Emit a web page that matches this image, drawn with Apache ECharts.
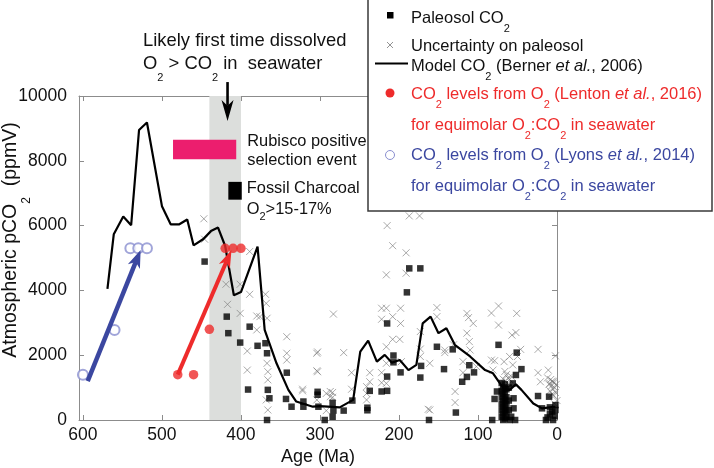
<!DOCTYPE html>
<html>
<head>
<meta charset="utf-8">
<script src="https://cdn.jsdelivr.net/npm/echarts@6/dist/echarts.min.js"></script>
<style>
  html, body { margin: 0; padding: 0; background: #fff; }
  #chart { width: 714px; height: 468px; }
</style>
</head>
<body>
<div id="chart"></div>
<script>
// ---------------------------- BEGIN DATA ----------------------------
var ageTicks = [600, 500, 400, 300, 200, 100, 0];
var co2Ticks = [0, 2000, 4000, 6000, 8000, 10000];

// model CO2 (Berner et al., 2006)
var modelAge = [569, 561, 549, 539, 529, 519, 500, 489, 478, 468, 460, 448, 438, 429,
  420, 409, 400, 379, 370, 355, 340, 330, 309, 300, 275, 258, 249, 239, 228, 218, 209,
  199, 188, 178, 170, 160, 150, 140, 129, 110, 91, 81, 68, 60, 52, 45, 30, 19, 2];
var modelCO2 = [4050, 5730, 6280, 6010, 8950, 9180, 6600, 6040, 6040, 6190, 5390, 5580,
  5830, 5940, 5370, 3850, 3950, 5350, 2780, 1750, 930, 570, 410, 430, 390, 620, 2110,
  2450, 1800, 2010, 1770, 1850, 1540, 1700, 2980, 3190, 2680, 2830, 2310, 1960, 1540,
  1440, 980, 930, 1100, 930, 510, 360, 410];

// paleosol CO2 [age, ppmV]
var paleosolPoints = [[446, 4890], [418, 3190], [416, 2680], [401, 2390], [391, 940],
  [389, 2880], [379, 2290], [369, 2370], [367, 2060], [366, 930], [364, 670], [367, 0],
  [342, 1460], [343, 650], [336, 410], [321, 570], [321, 410], [303, 870], [303, 780],
  [302, 410], [294, 0], [284, 100], [283, 290], [284, 530], [270, 290], [259, 600],
  [240, 380], [240, 300], [237, 900], [222, 880], [215, 900], [215, 1340], [207, 1990],
  [207, 1780], [215, 2980], [198, 1470], [190, 3940], [187, 4680], [173, 4680],
  [173, 1310], [172, 1670], [162, 0], [152, 2260], [143, 1570], [132, 2180], [128, 230],
  [120, 1180], [114, 1330], [111, 1690], [105, 1470], [82, 0], [74, 2320], [79, 650],
  [76, 880], [70, 1140], [70, 900], [70, 700], [70, 500], [70, 300], [70, 100],
  [68, 1000], [68, 800], [68, 600], [68, 400], [68, 200], [68, 0], [66, 1100], [66, 850],
  [66, 650], [66, 450], [66, 250], [66, 50], [64, 950], [64, 700], [64, 500], [64, 300],
  [64, 100], [61, 1000], [61, 600], [61, 300], [60, 0], [56, 1130], [55, 670], [55, 360],
  [52, 1390], [51, 2080], [45, 1570], [53, 0], [58, 100], [24, 740], [19, 360], [12, 80],
  [10, 720], [9, 390], [6, 260], [2, 460], [2, 310], [5, 0], [14, 0], [9, 180], [3, 120]];

// uncertainty on paleosol [age, ppmV]
var uncertaintyPoints = [[447, 6210], [446, 5580], [419, 4190], [417, 3570], [401, 4190],
  [401, 3290], [392, 2130], [392, 1540], [389, 5200], [389, 3880], [369, 3880],
  [368, 3600], [380, 3210], [376, 3190], [367, 3140], [380, 2780], [367, 1750],
  [366, 1490], [366, 1240], [368, 620], [366, 310], [342, 2570], [342, 2060], [342, 1850],
  [322, 950], [322, 900], [304, 2060], [303, 2100], [303, 1490], [304, 1520], [304, 620],
  [292, 290], [292, 820], [287, 880], [287, 720], [284, 850], [284, 700], [283, 3270],
  [270, 2080], [260, 1460], [260, 950], [241, 1030], [241, 820], [241, 620], [237, 1460],
  [237, 1180], [222, 1460], [222, 1150], [222, 3110], [222, 3450], [216, 3450],
  [216, 2260], [216, 1750], [216, 1130], [215, 6000], [208, 5380], [216, 4480],
  [208, 3190], [208, 2490], [199, 2490], [198, 3450], [198, 2980], [197, 1800],
  [191, 5160], [191, 4530], [187, 6300], [174, 6300], [173, 2730], [173, 2190],
  [173, 1960], [163, 330], [161, 1750], [161, 310], [152, 3470], [152, 3190], [142, 2160],
  [142, 2080], [131, 2320], [129, 880], [129, 540], [119, 1800], [119, 1460], [114, 3290],
  [112, 3160], [106, 2980], [114, 2680], [111, 2420], [110, 2160], [102, 1650], [83, 3300],
  [74, 3520], [74, 2930], [51, 3290], [57, 2620], [52, 2700], [83, 1850], [81, 1540],
  [79, 1830], [67, 1800], [68, 1260], [60, 1960], [56, 1700], [46, 2180], [50, 1960],
  [24, 2180], [24, 1460], [11, 1540], [2, 1980], [9, 1130], [5, 1180], [21, 1180],
  [66, 1500], [64, 1400], [62, 1300], [65, 1200], [61, 1100], [63, 1000], [60, 1250],
  [58, 1350], [66, 1050], [12, 1300], [8, 1250], [6, 1200], [4, 1150], [10, 1100],
  [7, 1050], [3, 1000], [5, 950], [9, 900], [2, 850], [6, 800], [4, 750], [1, 1100],
  [0, 600], [3, 500]];

// CO2 from O2 (Lenton et al., 2016)
var lentonAge = [480, 460, 440, 420, 410, 400];
var lentonCO2 = [1400, 1400, 2800, 5300, 5300, 5300];
var lentonArrow = [[480, 1400], [412, 5250]];

// CO2 from O2 (Lyons et al., 2014)
var lyonsAge = [600, 560, 540, 530, 519];
var lyonsCO2 = [1400, 2780, 5300, 5300, 5300];
var lyonsArrow = [[594, 1200], [527, 5250]];

// annotations
var bandAge = [440, 400];
var rubiscoAge = [486, 406];
var rubiscoCO2 = [8050, 8650];
var charcoalAge = [416, 399];
var charcoalCO2 = [6800, 7350];
var arrowAge = 417;
var arrowCO2 = [10430, 9230];
// ----------------------------- END DATA -----------------------------

var FONT = '"Liberation Sans", Arial, Helvetica, sans-serif';
var RED = '#ee2b2b';
var BLUE = '#3b47a0';
var AXIS_GRAY = '#8c8c8c';

var chart = echarts.init(document.getElementById('chart'), null, {renderer: 'canvas'});

function pairs(xs, ys) {
  return xs.map(function (x, i) { return [x, ys[i]]; });
}

function toPx(pt) {
  return chart.convertToPixel({gridIndex: 0}, pt);
}

// rich styles for subscripts / italics in graphic texts
function richFor(color, size, subPad) {
  return {
    s: {fontFamily: FONT, fontSize: 11, fill: color, padding: [subPad, 0, 0, 0]},
    i: {fontFamily: FONT, fontSize: size, fill: color, fontStyle: 'italic'}
  };
}

function textEl(x, y, str, color, size, subPad) {
  return {
    type: 'text', x: x, y: y, z: 120, silent: true,
    style: {
      text: str, fontFamily: FONT, fontSize: size, fill: color,
      align: 'left', verticalAlign: 'middle',
      rich: richFor(color, size, subPad)
    }
  };
}

// thick arrow (shaft + notched head) between two pixel points
function arrowEls(p0, p1, color, width, headLen, headHalf) {
  var dx = p1[0] - p0[0], dy = p1[1] - p0[1];
  var len = Math.sqrt(dx * dx + dy * dy);
  var ux = dx / len, uy = dy / len;
  var nx = -uy, ny = ux;
  var bx = p1[0] - ux * headLen, by = p1[1] - uy * headLen;
  var notch = [p1[0] - ux * headLen * 0.72, p1[1] - uy * headLen * 0.72];
  return [
    {type: 'line', z: 60, silent: true,
      shape: {x1: p0[0], y1: p0[1], x2: notch[0], y2: notch[1]},
      style: {stroke: color, lineWidth: width}},
    {type: 'polygon', z: 60, silent: true,
      shape: {points: [p1, [bx + nx * headHalf, by + ny * headHalf], notch,
        [bx - nx * headHalf, by - ny * headHalf]]},
      style: {fill: color}}
  ];
}

function mirrorAxis(base, pos) {
  return {
    type: 'value', position: pos, min: base.min, max: base.max,
    interval: base.interval, inverse: base.inverse,
    axisLine: {show: true, onZero: false, lineStyle: {color: AXIS_GRAY, width: 1}},
    axisTick: {show: true, inside: true, length: 5, lineStyle: {color: AXIS_GRAY}},
    axisLabel: {show: false},
    splitLine: {show: false}
  };
}

var xBase = {min: 0, max: 605, interval: 100, inverse: true};
var yBase = {min: 0, max: 10000, interval: 2000, inverse: false};

var option = {
  animation: false,
  backgroundColor: '#fff',
  grid: {left: 79, right: 157, top: 96, bottom: 48, outerBoundsMode: 'none'},
  xAxis: [
    {
      type: 'value', position: 'bottom', min: xBase.min, max: xBase.max,
      interval: xBase.interval, inverse: true,
      name: 'Age (Ma)', nameLocation: 'middle', nameGap: 28, nameMoveOverlap: false,
      nameTextStyle: {fontFamily: FONT, fontSize: 18, color: '#111'},
      axisLine: {show: true, onZero: false, lineStyle: {color: AXIS_GRAY, width: 1}},
      axisTick: {show: true, inside: true, length: 5, lineStyle: {color: AXIS_GRAY}},
      axisLabel: {
        fontFamily: FONT, fontSize: 17.5, color: '#111', margin: 6,
        formatter: function (v) { return ageTicks.indexOf(v) >= 0 ? String(v) : ''; }
      },
      splitLine: {show: false}
    },
    mirrorAxis(xBase, 'top')
  ],
  yAxis: [
    {
      type: 'value', position: 'left', min: yBase.min, max: yBase.max,
      interval: yBase.interval,
      name: 'Atmospheric pCO{s|2}  (ppmV)', nameLocation: 'middle', nameGap: 46,
      nameRotate: 90, nameMoveOverlap: false,
      nameTextStyle: {
        fontFamily: FONT, fontSize: 19.5, color: '#111', padding: [0, 0, 0, 36],
        rich: {s: {fontFamily: FONT, fontSize: 12, color: '#111', padding: [32, 0, 0, 0]}}
      },
      axisLine: {show: true, onZero: false, lineStyle: {color: AXIS_GRAY, width: 1}},
      axisTick: {show: true, inside: true, length: 5, lineStyle: {color: AXIS_GRAY}},
      axisLabel: {
        fontFamily: FONT, fontSize: 17.5, color: '#111', margin: 12,
        formatter: function (v) { return co2Ticks.indexOf(v) >= 0 ? String(v) : ''; }
      },
      splitLine: {show: false}
    },
    mirrorAxis(yBase, 'right')
  ],
  series: [
    {
      name: 'Model CO2', type: 'line', z: 3,
      data: pairs(modelAge, modelCO2),
      symbol: 'none',
      lineStyle: {color: '#000', width: 2.2},
      markArea: {
        silent: true,
        data: [
          [{xAxis: bandAge[0], itemStyle: {color: '#dcdedc'}}, {xAxis: bandAge[1]}],
          [{coord: [rubiscoAge[0], rubiscoCO2[0]], itemStyle: {color: '#ec1e6e'}},
            {coord: [rubiscoAge[1], rubiscoCO2[1]]}],
          [{coord: [charcoalAge[0], charcoalCO2[0]], itemStyle: {color: '#000'}},
            {coord: [charcoalAge[1], charcoalCO2[1]]}]
        ]
      }
    },
    {
      name: 'Uncertainty on paleosol', type: 'scatter', z: 2,
      data: uncertaintyPoints,
      symbol: 'path://M0,0L10,10M10,0L0,10',
      symbolSize: 7,
      itemStyle: {color: 'rgba(0,0,0,0)', borderColor: '#777', borderWidth: 0.8}
    },
    {
      name: 'Paleosol CO2', type: 'scatter', z: 4,
      data: paleosolPoints,
      symbol: 'rect', symbolSize: 6.5,
      itemStyle: {color: '#000'}
    },
    {
      name: 'Lenton', type: 'scatter', z: 6,
      data: pairs(lentonAge, lentonCO2),
      symbol: 'circle', symbolSize: 9.5,
      itemStyle: {color: RED}
    },
    {
      name: 'Lyons', type: 'scatter', z: 6,
      data: pairs(lyonsAge, lyonsCO2),
      symbol: 'emptyCircle', symbolSize: 10,
      itemStyle: {color: '#8a8fd0', borderWidth: 1}
    }
  ]
};

chart.setOption(option);

// ------------------------- annotations / legend -------------------------
var arrowTop = toPx([arrowAge, arrowCO2[0]]);
var arrowTip = toPx([arrowAge, arrowCO2[1]]);
var rubRight = toPx([rubiscoAge[1], rubiscoCO2[0]]);
var charRight = toPx([charcoalAge[1], charcoalCO2[0]]);

var graphics = []
  .concat(arrowEls(toPx(lentonArrow[0]), toPx(lentonArrow[1]), RED, 4, 18, 6))
  .concat(arrowEls(toPx(lyonsArrow[0]), toPx(lyonsArrow[1]), BLUE, 4.5, 18, 6.5))
  .concat(arrowEls(arrowTop, arrowTip, '#000', 2.6, 21, 6))
  .concat([
    textEl(143, 41, 'Likely first time dissolved', '#111', 18.4, 0),
    textEl(143, 64, 'O{s|2} > CO{s|2} in  seawater', '#111', 18.4, 28),
    textEl(rubRight[0] + 11, 141, 'Rubisco positive', '#111', 16.4, 0),
    textEl(rubRight[0] + 11, 160, 'selection event', '#111', 16.4, 0),
    textEl(charRight[0] + 5, 188, 'Fossil Charcoal', '#111', 16.4, 0),
    textEl(charRight[0] + 5, 209, 'O{s|2}>15-17%', '#111', 16.4, 16),

    // legend box
    {type: 'rect', z: 100, silent: true,
      shape: {x: 368, y: -2, width: 344, height: 213},
      style: {fill: '#fff', stroke: '#3a3a3a', lineWidth: 1.5}},
    {type: 'rect', z: 110, silent: true,
      shape: {x: 387, y: 12, width: 6.5, height: 6.5}, style: {fill: '#000'}},
    {type: 'line', z: 110, silent: true,
      shape: {x1: 387, y1: 42, x2: 393, y2: 48}, style: {stroke: '#777', lineWidth: 0.8}},
    {type: 'line', z: 110, silent: true,
      shape: {x1: 393, y1: 42, x2: 387, y2: 48}, style: {stroke: '#777', lineWidth: 0.8}},
    {type: 'line', z: 110, silent: true,
      shape: {x1: 375, y1: 63.5, x2: 408, y2: 63.5}, style: {stroke: '#000', lineWidth: 2}},
    {type: 'circle', z: 110, silent: true,
      shape: {cx: 390, cy: 93, r: 4.5}, style: {fill: RED}},
    {type: 'circle', z: 110, silent: true,
      shape: {cx: 390, cy: 155, r: 4.5}, style: {fill: 'none', stroke: '#8a8fd0', lineWidth: 1}},
    textEl(411, 18, 'Paleosol CO{s|2}', '#111', 16.5, 22),
    textEl(411, 46, 'Uncertainty on paleosol', '#111', 16.5, 0),
    textEl(411, 66, 'Model CO{s|2} (Berner {i|et al.}, 2006)', '#111', 16.5, 22),
    textEl(411, 94, 'CO{s|2} levels from O{s|2} (Lenton {i|et al.}, 2016)', RED, 16.5, 22),
    textEl(411, 125, 'for equimolar O{s|2}:CO{s|2} in seawater', RED, 16.5, 22),
    textEl(411, 155, 'CO{s|2} levels from O{s|2} (Lyons {i|et al.}, 2014)', BLUE, 16.5, 22),
    textEl(411, 186, 'for equimolar O{s|2}:CO{s|2} in seawater', BLUE, 16.5, 22)
  ]);

chart.setOption({graphic: graphics});
</script>
</body>
</html>
